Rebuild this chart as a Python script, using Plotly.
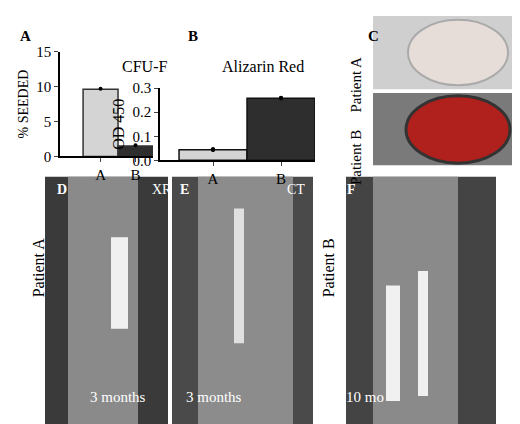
import plotly.graph_objects as go

cats = ["A", "B"]
cfu_vals = [9.6, 1.5]
cfu_pts = [9.7, 1.6]
ar_vals = [0.044, 0.258]
ar_pts_a = [0.043, 0.047, 0.044]
ar_pts_b = [0.257, 0.259, 0.260]
colors = ["#d4d4d4", "#2e2e2e"]
W, H = 520, 424
F = "Liberation Serif"

def px(x0, x1): return [x0 / W, x1 / W]
def py(y0, y1): return [1 - y1 / H, 1 - y0 / H]

fig = go.Figure()
fig.add_bar(x=cats, y=cfu_vals, marker=dict(color=colors, line=dict(color="#333", width=1.5)),
            width=1, xaxis="x", yaxis="y", showlegend=False)
fig.add_scatter(x=cats, y=cfu_pts, mode="markers", marker=dict(color="black", size=4),
                xaxis="x", yaxis="y", showlegend=False)
fig.add_bar(x=cats, y=ar_vals, marker=dict(color=colors, line=dict(color="#111", width=1.5)),
            width=1, xaxis="x2", yaxis="y2", showlegend=False)
fig.add_scatter(x=["A"] * 3, y=ar_pts_a, mode="markers", marker=dict(color="black", size=4),
                xaxis="x2", yaxis="y2", showlegend=False)
fig.add_scatter(x=["B"] * 3, y=ar_pts_b, mode="markers", marker=dict(color="black", size=4),
                xaxis="x2", yaxis="y2", showlegend=False)

ax = dict(showline=True, linecolor="black", linewidth=1.5, ticks="outside", ticklen=4,
          tickfont=dict(family=F, size=15, color="black"), showgrid=False, zeroline=False)
fig.update_layout(
    width=W, height=H, margin=dict(l=0, r=0, t=0, b=0), plot_bgcolor="white", paper_bgcolor="white",
    font=dict(family=F, color="black"),
    xaxis=dict(ax, domain=px(52, 145), range=[-1.16, 1.5]),
    yaxis=dict(ax, domain=py(37, 146), range=[0, 15], tickvals=[0, 5, 10, 15],
               title=dict(text="% SEEDED", font=dict(family=F, size=14), standoff=4), anchor="x"),
    xaxis2=dict(ax, domain=px(152, 307), range=[-0.78, 1.5], anchor="y2"),
    yaxis2=dict(ax, domain=py(75, 150), range=[0, 0.3], tickvals=[0, 0.1, 0.2, 0.3],
                tickformat=".1f", title=dict(text="OD 450", font=dict(family=F, size=16), standoff=4), anchor="x2"),
)

shapes = []
def rect(x0, y0, x1, y1, fill):
    shapes.append(dict(type="rect", xref="paper", yref="paper", x0=x0 / W, x1=x1 / W,
                       y0=1 - y1 / H, y1=1 - y0 / H, fillcolor=fill, line=dict(width=0), layer="below"))
rect(365, 0, 520, 76, "#cfcfcf")
shapes.append(dict(type="circle", xref="paper", yref="paper", x0=400 / W, x1=500 / W, y0=1 - 72 / H, y1=1 - 4 / H,
                   fillcolor="#e6dcd8", line=dict(color="#aaa", width=2)))
rect(365, 80, 520, 155, "#7a7a7a")
shapes.append(dict(type="circle", xref="paper", yref="paper", x0=398 / W, x1=502 / W, y0=1 - 153 / H, y1=1 - 83 / H,
                   fillcolor="#b0201c", line=dict(color="#333", width=3)))
rect(37, 167, 160, 424, "#3a3a3a")
rect(164, 167, 305, 424, "#4a4a4a")
rect(338, 167, 488, 424, "#444444")
rect(60, 167, 130, 424, "#8a8a8a")
rect(190, 167, 285, 424, "#8c8c8c")
rect(365, 167, 450, 424, "#8a8a8a")
rect(103, 230, 120, 325, "#f0f0f0")
rect(226, 200, 236, 340, "#e0e0e0")
rect(378, 280, 392, 400, "#f0f0f0")
rect(410, 265, 420, 395, "#f0f0f0")
fig.update_layout(shapes=shapes)

ann = []
def t(x, y, s, size=14, color="black", bold=False, angle=0):
    ann.append(dict(x=x / W, y=1 - y / H, xref="paper", yref="paper", text=f"<b>{s}</b>" if bold else s,
                    showarrow=False, font=dict(family=F, size=size, color=color), textangle=angle))
t(10, 10, "A", 15, bold=True); t(185, 10, "B", 15, bold=True); t(373, 10, "C", 15, bold=True)
t(112, 42, "CFU-F", 16); t(255, 42, "Alizarin Red", 16)
t(358, 40, "Patient A", 15, angle=-90); t(358, 117, "Patient B", 15, angle=-90)
t(20, 295, "Patient A", 16, angle=-90); t(320, 295, "Patient B", 16, angle=-90)
t(47, 180, "D", 14, "white", True); t(176, 180, "E", 14, "white", True); t(350, 180, "F", 14, "white", True)
t(142, 180, "XR", 14, "white"); t(288, 180, "CT", 14, "white")
t(80, 406, "3 months", 15, "white"); t(206, 406, "3 months", 15, "white"); t(378, 406, "10 mo", 15, "white")
fig.update_layout(annotations=ann)
fig.write_html("out.html")
